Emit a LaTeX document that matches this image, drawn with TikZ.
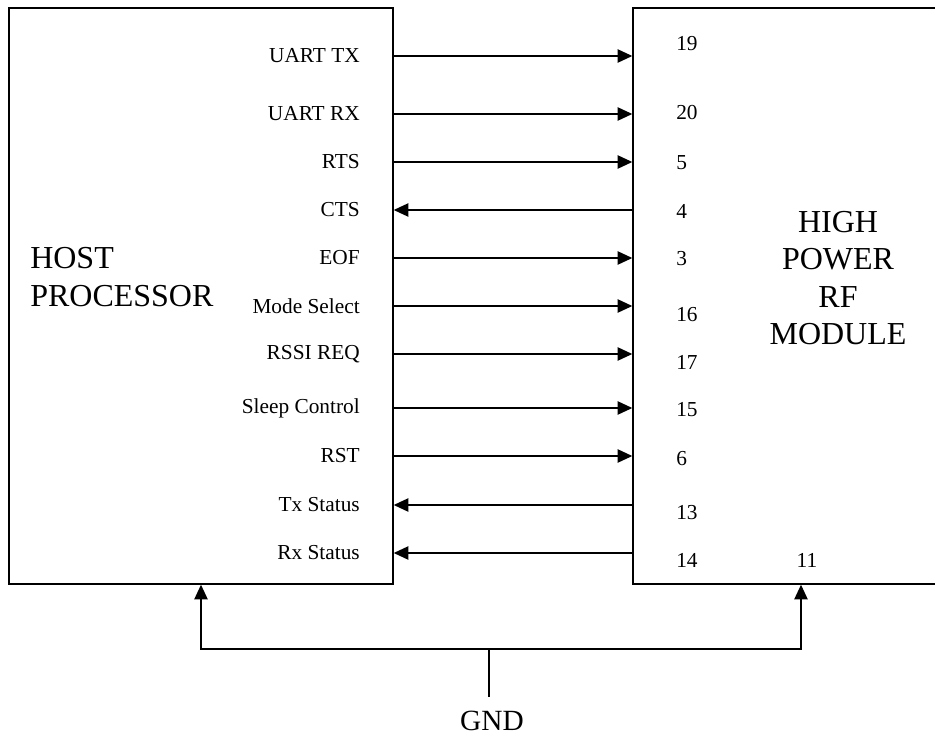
\documentclass[tikz,border=0pt]{standalone}
\usepackage{fontspec}
\setmainfont{Liberation Serif}
\usetikzlibrary{arrows.meta,positioning,calc}

\begin{document}
\begin{tikzpicture}[
    x=0.75pt, y=-0.75pt,
    block/.style={draw, line width=1.1pt, minimum width=#1, minimum height=432pt, inner sep=0pt},
    wire/.style={line width=1.1pt},
    torf/.style={wire, -{Triangle[length=11pt, width=10pt]}},
    tohost/.style={wire, {Triangle[length=11pt, width=10pt]}-},
    sigtext/.style={font=\fontsize{16}{19}\selectfont, inner sep=0pt, anchor=east},
    pintext/.style={font=\fontsize{16}{19}\selectfont, inner sep=0pt, anchor=west},
    title/.style={font=\fontsize{24}{28}\selectfont, align=#1, inner sep=0pt},
    title/.default=center
]
\useasboundingbox (0,0) rectangle (935,738);

\node[block=288pt] (host) at (201,296) {};
\node[block=234pt] (rf) at (789,296) {};

\node[title=left, anchor=west] (hostname) at (30,277) {HOST\\PROCESSOR};
\node[title] (rfname) at (838,278) {HIGH\\POWER\\RF\\MODULE};

% signal lines between host and module
\foreach \y/\sig/\pin/\py/\dir [count=\i] in {
    56/UART TX/19/44/torf,
    114/UART RX/20/113/torf,
    162/RTS/5/163/torf,
    210/CTS/4/211/tohost,
    258/EOF/3/259/torf,
    306/Mode Select/16/315/torf,
    354/RSSI REQ/17/362/torf,
    408/Sleep Control/15/410/torf,
    456/RST/6/459/torf,
    505/Tx Status/13/513/tohost,
    553/Rx Status/14/560/tohost}
{
    \node[sigtext] (s\i) at (360,\y) {\sig};
    \node[pintext] (p\i) at (676,\py) {\pin};
    \draw[\dir] (host.east |- 0,\y) -- (rf.west |- 0,\y);
}

\node[pintext, anchor=center] (p12) at (807,560) {11};

% ground
\node[title, font=\fontsize{22}{26}\selectfont] (gnd) at (492,721) {GND};
\coordinate (split) at (489,649);
\draw[wire] (split) -- (split |- 0,697);
\draw[torf] (split) -| (host.south -| 201,0);
\draw[torf] (split) -| (rf.south -| 801,0);
\end{tikzpicture}
\end{document}
